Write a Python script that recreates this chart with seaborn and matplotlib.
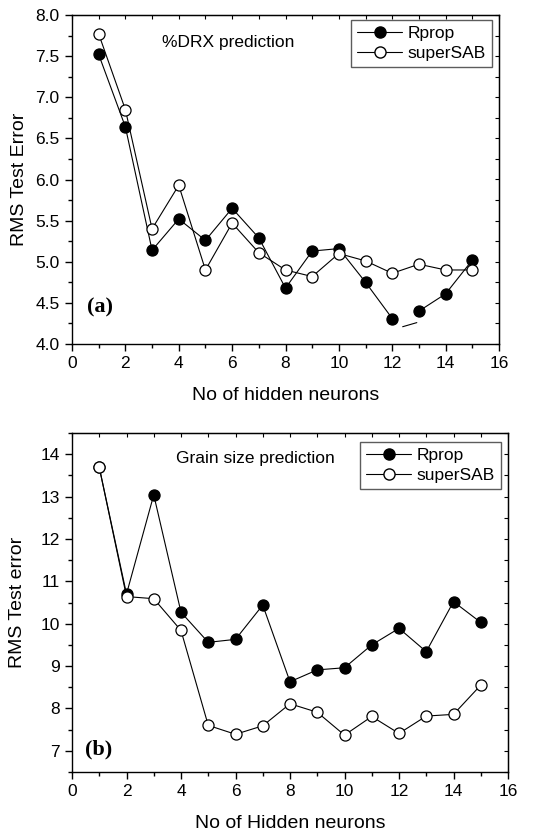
import matplotlib
matplotlib.use("Agg")
import matplotlib.pyplot as plt
from matplotlib.ticker import MultipleLocator, FormatStrFormatter
from matplotlib.lines import Line2D
import pandas as pd
import seaborn as sns

# Number of hidden neurons
neurons = list(range(1, 16))

# (a) %DRX prediction
drx_rprop = [7.52, 6.64, 5.14, 5.52, 5.26, 5.65, 5.29, 4.68, 5.13, 5.16,
             4.75, 4.31, 4.40, 4.61, 5.02]
drx_supersab = [7.77, 6.85, 5.40, 5.93, 4.90, 5.47, 5.11, 4.90, 4.82, 5.10,
                5.01, 4.86, 4.97, 4.90, 4.90]
# short stray stroke of the Rprop curve between 12 and 13 neurons
drx_dash_x = [12.39, 12.92]
drx_dash_y = [4.21, 4.26]

# (b) Grain size prediction
grain_rprop = [13.69, 10.70, 13.04, 10.27, 9.56, 9.63, 10.44, 8.63, 8.91, 8.96,
               9.50, 9.89, 9.34, 10.52, 10.03]
grain_supersab = [13.69, 10.64, 10.59, 9.84, 7.60, 7.39, 7.59, 8.11, 7.91, 7.37,
                  7.81, 7.41, 7.82, 7.86, 8.55]

series_names = ["Rprop", "superSAB"]

sns.set_style("ticks")
plt.rcParams["font.family"] = ["Liberation Sans", "DejaVu Sans"]
plt.rcParams.update({"text.color": "black", "axes.labelcolor": "black",
                     "xtick.color": "black", "ytick.color": "black",
                     "axes.edgecolor": "black"})

W, H = 546, 832
fig = plt.figure(figsize=(W / 100, H / 100), dpi=100)


def px_axes(left, top, right, bottom):
    return fig.add_axes([left / W, 1 - bottom / H, (right - left) / W, (bottom - top) / H])


MS = 8
LW = 0.8


def style_axes(ax, xlim, ylim, ymajor, yminor):
    ax.set_xlim(*xlim)
    ax.set_ylim(*ylim)
    ax.xaxis.set_major_locator(MultipleLocator(2))
    ax.xaxis.set_minor_locator(MultipleLocator(1))
    ax.yaxis.set_major_locator(MultipleLocator(ymajor))
    ax.yaxis.set_minor_locator(MultipleLocator(yminor))
    for s in ax.spines.values():
        s.set_linewidth(1.0)
        s.set_color("black")
    ax.tick_params(which="major", direction="out", length=5, width=1,
                   labelsize=12.5, colors="black", pad=4)
    ax.tick_params(which="minor", direction="out", length=3, width=1)
    # mirrored ticks on top and right, pointing inward
    sec_x = ax.secondary_xaxis("top")
    sec_x.xaxis.set_major_locator(MultipleLocator(2))
    sec_x.xaxis.set_minor_locator(MultipleLocator(1))
    sec_x.tick_params(which="both", direction="in", length=3, width=0.8, labeltop=False)
    sec_y = ax.secondary_yaxis("right")
    sec_y.yaxis.set_major_locator(MultipleLocator(ymajor))
    sec_y.yaxis.set_minor_locator(MultipleLocator(yminor))
    sec_y.tick_params(which="both", direction="in", length=3, width=0.8, labelright=False)


def draw_series(ax, y, filled, breaks=None):
    df = pd.DataFrame({"x": neurons, "y": y})
    fc = "black" if filled else "white"
    parts = [df] if breaks is None else [df[df.x <= breaks], df[df.x > breaks]]
    for part in parts:
        sns.lineplot(data=part, x="x", y="y", ax=ax, color="black", lw=LW,
                     marker="o", markersize=MS, markerfacecolor=fc,
                     markeredgecolor="black", markeredgewidth=0.9, zorder=3)


def add_legend(ax, anchor):
    handles = [
        Line2D([], [], color="black", lw=LW, marker="o", markersize=MS,
               markerfacecolor="black", markeredgecolor="black"),
        Line2D([], [], color="black", lw=LW, marker="o", markersize=MS,
               markerfacecolor="white", markeredgecolor="black"),
    ]
    leg = ax.legend(handles, series_names, loc="upper right", bbox_to_anchor=anchor,
                    bbox_transform=fig.transFigure, fontsize=12.5, frameon=True,
                    fancybox=False, edgecolor="#333333", handlelength=2.6,
                    handletextpad=0.3, borderpad=0.35, labelspacing=0.25,
                    borderaxespad=0)
    leg.get_frame().set_linewidth(1.0)


# ---- (a) %DRX ----
ax1 = px_axes(72, 15, 499, 344)
draw_series(ax1, drx_rprop, True, breaks=12)
draw_series(ax1, drx_supersab, False)
ax1.plot(drx_dash_x, drx_dash_y, color="black", lw=LW)
style_axes(ax1, (0, 16), (4.0, 8.0), 0.5, 0.25)
ax1.yaxis.set_major_formatter(FormatStrFormatter("%.1f"))
ax1.set_xlabel("No of hidden neurons", fontsize=14, labelpad=11)
ax1.set_ylabel("RMS Test Error", fontsize=14, labelpad=5)
ax1.text(0.365, 0.915, "%DRX prediction", transform=ax1.transAxes,
         fontsize=12.5, ha="center", va="center")
ax1.text(0.066, 0.11, "(a)", transform=ax1.transAxes, fontsize=16,
         fontweight="bold", family="Liberation Serif", ha="center", va="center")
add_legend(ax1, (492 / W, 1 - 20 / H))

# ---- (b) Grain size ----
ax2 = px_axes(72, 433, 508, 772)
draw_series(ax2, grain_rprop, True)
draw_series(ax2, grain_supersab, False)
style_axes(ax2, (0, 16), (6.5, 14.5), 1, 0.5)
ax2.set_xlabel("No of Hidden neurons", fontsize=14, labelpad=11)
ax2.set_ylabel("RMS Test error", fontsize=14, labelpad=10)
ax2.text(0.42, 0.925, "Grain size prediction", transform=ax2.transAxes,
         fontsize=12.5, ha="center", va="center")
ax2.text(0.062, 0.065, "(b)", transform=ax2.transAxes, fontsize=16,
         fontweight="bold", family="Liberation Serif", ha="center", va="center")
add_legend(ax2, (501 / W, 1 - 442 / H))

fig.savefig("out.png", dpi=100, facecolor="white")
